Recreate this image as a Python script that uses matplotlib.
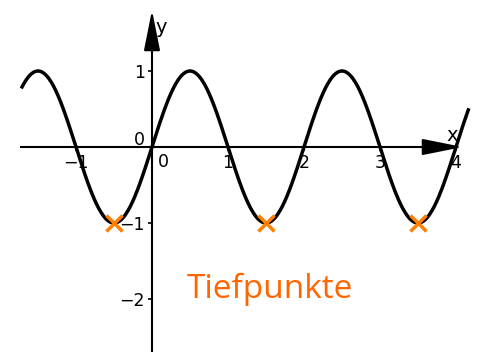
import numpy as np
import matplotlib.pyplot as plt

# Funktion y = a * sin(2*pi/T * x)
amplitude = 1.0
periode = 2.0
x_start, x_ende = -1.72, 4.17

# Tiefpunkte
tief_x = [-0.5, 1.5, 3.5]
tief_y = [-1, -1, -1]

x_ticks = [-1, 1, 2, 3, 4]
y_ticks = [-2, -1, 1]

fig = plt.figure(figsize=(4.86, 3.52), dpi=100)
ax = fig.add_axes([0, 0, 1, 1])
ax.set_xlim(-2.0, 4.395)
ax.set_ylim(-2.697, 1.934)

# Achsen durch den Ursprung
ax.spines['top'].set_visible(False)
ax.spines['right'].set_visible(False)
ax.spines['left'].set_position(('data', 0))
ax.spines['bottom'].set_position(('data', 0))
ax.spines['left'].set_bounds(-2.697, 1.5)
ax.spines['bottom'].set_bounds(-1.72, 3.8)
for s in ['left', 'bottom']:
    ax.spines[s].set_linewidth(1.5)

ax.set_xticks(x_ticks)
ax.set_yticks(y_ticks)
ax.set_xticklabels(['\u22121', '1', '2', '3', '4'])
ax.set_yticklabels(['\u22122', '\u22121', '1'])
ax.tick_params(axis='both', direction='out', length=3, width=1.2, labelsize=12.5, pad=2)

# Pfeilspitzen
pfeil = dict(arrowstyle='-|>,head_length=1.25,head_width=0.25',
             mutation_scale=20, lw=1.5, color='black', shrinkA=0, shrinkB=0)
ax.annotate('', xy=(4.09, 0), xytext=(3.75, 0), arrowprops=pfeil)
ax.annotate('', xy=(0, 1.80), xytext=(0, 1.45), arrowprops=pfeil)
ax.text(3.87, 0.145, 'x', fontsize=14, ha='left', va='center')
ax.text(0.05, 1.57, 'y', fontsize=14, ha='left', va='center')
ax.text(-0.09, 0.03, '0', fontsize=12.5, ha='right', va='baseline')
ax.text(0.08, -0.08, '0', fontsize=12.5, ha='left', va='top')

# Graph
x = np.linspace(x_start, x_ende, 600)
y = amplitude * np.sin(2 * np.pi / periode * x)
ax.plot(x, y, color='black', lw=2.5, solid_capstyle='butt', zorder=3)

# Tiefpunkte markieren
ax.plot(tief_x, tief_y, linestyle='none', marker='x', markersize=12,
        markeredgewidth=2.5, color='#ff8000', zorder=4)

ax.text(0.46, -1.99, 'Tiefpunkte', fontsize=24, color='#ff6600',
        family='Open Sans', ha='left', va='baseline')

fig.savefig('out.png', dpi=100)
